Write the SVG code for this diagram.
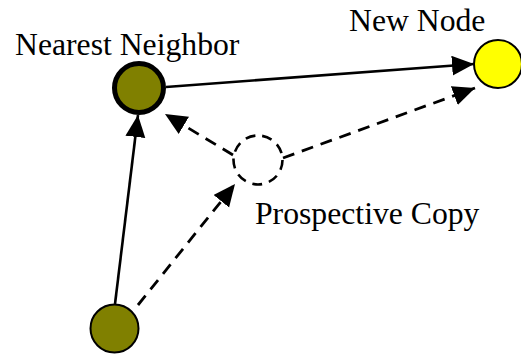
<svg xmlns="http://www.w3.org/2000/svg" width="521" height="355" viewBox="0 0 521 355">
  <style>
    .label { font-family: "Liberation Serif", "Times New Roman", serif; font-size: 31.7px; fill: #000; }
    .solid { stroke: #000; stroke-width: 2.6; fill: none; }
    .dashed { stroke: #000; stroke-width: 2.8; fill: none; stroke-dasharray: 12 8; }
    .olive { fill: #808000; stroke: #000; }
  </style>
  <defs>
    <marker id="arrow" markerUnits="userSpaceOnUse" markerWidth="24" markerHeight="22" refX="22" refY="10" orient="auto">
      <path d="M0,0 L22,10 L0,20 Z" fill="#000"/>
    </marker>
  </defs>
  <rect width="521" height="355" fill="#fff"/>

  <g id="connectors">
    <line class="solid" x1="166" y1="87" x2="474" y2="64" marker-end="url(#arrow)"/>
    <line class="solid" x1="115" y1="304" x2="138" y2="115" marker-end="url(#arrow)"/>
    <line class="dashed" x1="233" y1="155" x2="165" y2="114" marker-end="url(#arrow)"/>
    <line class="dashed" x1="283" y1="158" x2="475" y2="88" marker-end="url(#arrow)"/>
    <line class="dashed" x1="138" y1="305" x2="235" y2="184" marker-end="url(#arrow)"/>
  </g>

  <g id="nearest-neighbor">
    <circle class="olive" cx="139" cy="88" r="24.5" stroke-width="5"/>
    <text class="label" x="15" y="55">Nearest Neighbor</text>
  </g>

  <g id="new-node">
    <circle cx="498" cy="64" r="24" fill="#ffff00" stroke="#000" stroke-width="2"/>
    <text class="label" x="349" y="31">New Node</text>
  </g>

  <g id="prospective-copy">
    <circle cx="258" cy="160" r="24.5" fill="none" stroke="#000" stroke-width="2.6" stroke-dasharray="10 7"/>
    <text class="label" x="255" y="224">Prospective Copy</text>
  </g>

  <g id="origin-node">
    <circle class="olive" cx="114.5" cy="328.5" r="24" stroke-width="2"/>
  </g>
</svg>
